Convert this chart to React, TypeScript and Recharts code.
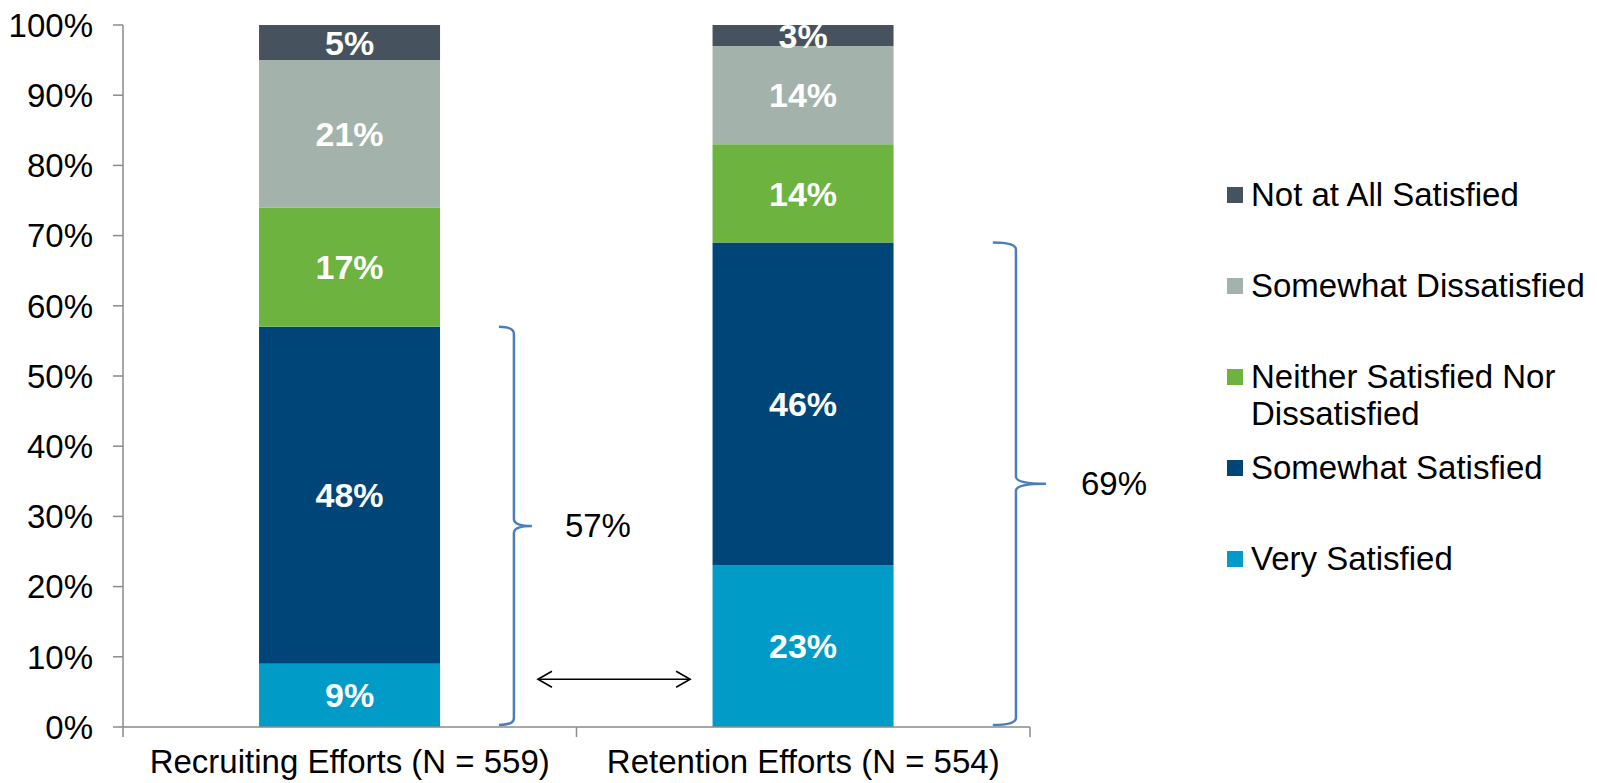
import { Bar, BarChart, LabelList, ReferenceArea, XAxis, YAxis } from "recharts";

const categories = ["Recruiting Efforts (N = 559)", "Retention Efforts (N = 554)"];
const verySatisfied = [9, 23];
const somewhatSatisfied = [48, 46];
const neitherNor = [17, 14];
const somewhatDissatisfied = [21, 14];
const notAtAll = [5, 3];
const satisfiedTotals = [57, 69];
const yTicks = [0, 10, 20, 30, 40, 50, 60, 70, 80, 90, 100];

// bottom to top
const series = [
  { key: "verySatisfied", name: "Very Satisfied", color: "#009cc7", values: verySatisfied },
  { key: "somewhatSatisfied", name: "Somewhat Satisfied", color: "#004577", values: somewhatSatisfied },
  { key: "neitherNor", name: "Neither Satisfied Nor Dissatisfied", color: "#6cb33f", values: neitherNor },
  { key: "somewhatDissatisfied", name: "Somewhat Dissatisfied", color: "#a3b2aa", values: somewhatDissatisfied },
  { key: "notAtAll", name: "Not at All Satisfied", color: "#46535e", values: notAtAll },
];

const data = categories.map((name, i) => {
  const row: Record<string, string | number> = { name };
  series.forEach((s) => (row[s.key] = s.values[i]));
  return row;
});

// brace placement as fractions of each category band
const braces = [
  { hook: 0.829, line: 0.862, pointer: 18, labelDx: 51 },
  { hook: 0.918, line: 0.969, pointer: 30, labelDx: 65 },
];

const FONT = "'Liberation Sans', Arial, sans-serif";
const AXIS = "#8a8a8a";
const BRACE = "#4a7ebb";

function braceShape(hook: number, line: number, pointer: number, labelDx: number, label: string) {
  return (p: any) => {
    const { x: bx, y, width: w, height } = p;
    const x = bx + hook * w;
    const r = bx + line * w;
    const mid = y + height / 2;
    const bot = y + height;
    const c = 7;
    const d = [
      `M ${x} ${y}`,
      `Q ${r} ${y} ${r} ${y + c}`,
      `L ${r} ${mid - c}`,
      `Q ${r} ${mid} ${r + pointer} ${mid}`,
      `Q ${r} ${mid} ${r} ${mid + c}`,
      `L ${r} ${bot - c}`,
      `Q ${r} ${bot} ${x} ${bot}`,
    ].join(" ");
    return (
      <g>
        <path d={d} fill="none" stroke={BRACE} strokeWidth={2.5} />
        <text x={r + labelDx} y={mid} dy="0.35em" fontSize={33} fill="#000">{label}</text>
      </g>
    );
  };
}

// double arrow between the two bars
function arrowShape(p: any) {
  const { x: bx, y, width: w, height } = p;
  const m = y + height / 2;
  const x = bx + 0.4575 * w;
  const e = bx + 0.6253 * w;
  return (
    <g fill="none" stroke="#000" strokeWidth={1.6}>
      <line x1={x} y1={m} x2={e} y2={m} />
      <polyline points={`${x + 14},${m - 8} ${x},${m} ${x + 14},${m + 8}`} />
      <polyline points={`${e - 14},${m - 8} ${e},${m} ${e - 14},${m + 8}`} />
    </g>
  );
}

// tick marks at category boundaries
function boundaryTicks(p: any) {
  const { x, y, width: w, height } = p;
  const b = y + height;
  return (
    <g stroke={AXIS} strokeWidth={1.5}>
      {[0, 0.5, 1].map((f) => (
        <line key={f} x1={x + f * w} y1={b} x2={x + f * w} y2={b + 10} />
      ))}
    </g>
  );
}

function LegendBox() {
  return (
    <div style={{ position: "absolute", left: 1227, top: 176, fontFamily: FONT, fontSize: 33, color: "#000" }}>
      {[...series].reverse().map((s) => (
        <div key={s.key} style={{ display: "flex", alignItems: "flex-start", height: 91 }}>
          <span style={{ width: 16, height: 16, background: s.color, marginTop: 11, marginRight: 8, flex: "none" }} />
          <span style={{ lineHeight: "37px", width: 345 }}>{s.name}</span>
        </div>
      ))}
    </div>
  );
}

export default function App() {
  return (
    <div style={{ position: "absolute", left: 0, top: 0, width: 1597, height: 783, fontFamily: FONT, background: "#fff" }}>
      <BarChart
        width={1597}
        height={783}
        data={data}
        margin={{ top: 25, right: 567, left: 0, bottom: 0 }}
        barCategoryGap="30%"
      >
        <XAxis
          dataKey="name"
          height={56}
          tickLine={false}
          tickSize={10}
          tickMargin={13}
          interval={0}
          axisLine={{ stroke: AXIS, strokeWidth: 1.5 }}
          tick={{ fontSize: 33, fill: "#000" }}
        />
        <YAxis
          domain={[0, 100]}
          ticks={yTicks}
          tickFormatter={(v: number) => `${v}%`}
          width={123}
          tickSize={10}
          tickMargin={20}
          interval={0}
          axisLine={{ stroke: AXIS, strokeWidth: 1.5 }}
          tickLine={{ stroke: AXIS, strokeWidth: 1.5 }}
          tick={{ fontSize: 33, fill: "#000" }}
        />
        {series.map((s) => (
          <Bar key={s.key} dataKey={s.key} name={s.name} stackId="a" fill={s.color} isAnimationActive={false}>
            <LabelList
              dataKey={s.key}
              position="center"
              fill="#fff"
              fontSize={34}
              fontWeight="bold"
              formatter={(v: number) => `${v}%`}
            />
          </Bar>
        ))}
        <ReferenceArea x1={categories[0]} x2={categories[1]} y1={0} y2={1} shape={boundaryTicks} />
        {braces.map((b, i) => (
          <ReferenceArea
            key={i}
            x1={categories[i]}
            x2={categories[i]}
            y1={0.3}
            y2={satisfiedTotals[i]}
            shape={braceShape(b.hook, b.line, b.pointer, b.labelDx, `${satisfiedTotals[i]}%`)}
          />
        ))}
        <ReferenceArea x1={categories[0]} x2={categories[1]} y1={5.8} y2={7.8} shape={arrowShape} />
      </BarChart>
      <LegendBox />
    </div>
  );
}
